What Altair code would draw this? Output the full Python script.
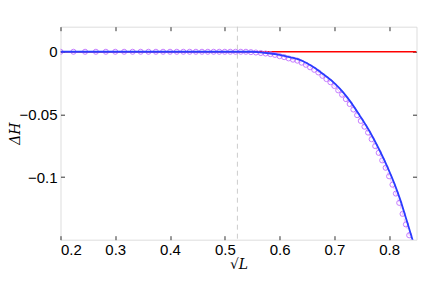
import altair as alt
import pandas as pd

x_ticks = [0.2, 0.3, 0.4, 0.5, 0.6, 0.7, 0.8]
y_ticks = [0, -0.05, -0.1]
threshold_x = [0.523]

blue_x = [0.2, 0.3, 0.4, 0.5, 0.55, 0.565, 0.58, 0.60, 0.62, 0.637, 0.65, 0.6645,
          0.68, 0.70, 0.715, 0.728, 0.7465, 0.765, 0.783, 0.798, 0.81, 0.8195,
          0.832, 0.8427, 0.848]
blue_y = [0, 0, 0, 0, 0, -0.0005, -0.0012, -0.0025, -0.0045, -0.0065, -0.0092, -0.013,
          -0.018, -0.025, -0.0318, -0.039, -0.051, -0.064, -0.079, -0.093, -0.1056, -0.117,
          -0.1345, -0.150, -0.158]

red_x = [0.2, 0.85]
red_y = [0, 0]

mag_x = [0.2, 0.2236, 0.2449, 0.2646, 0.2828, 0.3, 0.3162, 0.3317, 0.3464, 0.3606,
         0.3742, 0.3873, 0.4, 0.4123, 0.4243, 0.4359, 0.4472, 0.4583, 0.469, 0.4796,
         0.4899, 0.5, 0.5099, 0.5196, 0.5292, 0.5385, 0.5477, 0.5568, 0.5657, 0.5745,
         0.5831, 0.5916, 0.6, 0.6083, 0.6164, 0.6245, 0.6325, 0.6403, 0.6481, 0.6557,
         0.6633, 0.6708, 0.6782, 0.6856, 0.6928, 0.7, 0.7071, 0.7141, 0.7211, 0.728,
         0.7348, 0.7416, 0.7483, 0.755, 0.7616, 0.7681, 0.7746, 0.781, 0.7874, 0.7937,
         0.8, 0.8062, 0.8124, 0.8185, 0.8246, 0.8307, 0.8367, 0.8426, 0.8485]
mag_y = [0, 0, 0, 0, 0, 0, 0, 0, 0, 0,
         0, 0, 0, 0, 0, 0, 0, 0, 0, 0,
         0, 0, 0, 0, 0, 0, -0.0003, -0.0006, -0.0010, -0.0014,
         -0.0019, -0.0025, -0.0035, -0.0043, -0.0053, -0.0063, -0.0071, -0.0087, -0.0104, -0.0124,
         -0.0144, -0.0165, -0.0192, -0.0218, -0.0243, -0.0273, -0.0308, -0.0343, -0.0378, -0.0417,
         -0.0461, -0.0506, -0.0552, -0.0598, -0.0645, -0.0698, -0.0753, -0.0807, -0.0867, -0.0926,
         -0.0994, -0.1061, -0.1132, -0.1206, -0.1294, -0.1378, -0.1465, -0.155, -0.164]

blue_df = pd.DataFrame({"x": blue_x, "y": blue_y})
red_df = pd.DataFrame({"x": red_x, "y": red_y})
mag_df = pd.DataFrame({"x": mag_x, "y": mag_y})
thr_df = pd.DataFrame({"x": threshold_x})

xs = alt.Scale(domain=[0.2, 0.85], nice=False, zero=False)
ys = alt.Scale(domain=[-0.15, 0.02], nice=False, zero=False)

common = dict(domain=False, grid=False, tickSize=4, tickColor="#333333", tickWidth=1,
              offset=-4, labelFont="Liberation Sans", labelFontSize=15, labelColor="black")

x_bottom = alt.Axis(values=x_ticks, format=".1f", title="√L", titleFont="DejaVu Serif",
                    titleFontStyle="italic", titleFontWeight="normal", titleFontSize=14,
                    titleColor="black", labelPadding=3, titleY=22, **common)
y_left = alt.Axis(values=y_ticks, title="ΔH", titleFont="DejaVu Serif",
                  titleFontStyle="italic", titleFontWeight="normal", titleFontSize=14,
                  titleColor="black", labelPadding=3.5, titleX=-42, titleY=106.5,
                  labelExpr="datum.value == 0 ? '0' : replace(format(datum.value, '.2~f'), '-', '\u2212')",
                  **common)
x_top = alt.Axis(values=x_ticks, orient="top", labels=False, title="", **common)
y_right = alt.Axis(values=y_ticks, orient="right", labels=False, title="", **common)

red = alt.Chart(red_df).mark_line(color="#ff0000", strokeWidth=1.6, clip=True).encode(
    x=alt.X("x:Q", scale=xs, axis=x_bottom),
    y=alt.Y("y:Q", scale=ys, axis=y_left),
)

thr = alt.Chart(thr_df).mark_rule(color="#cccccc", strokeWidth=1, strokeDash=[5, 4]).encode(
    x=alt.X("x:Q", scale=xs, axis=x_top),
)

mag_line = alt.Chart(mag_df).mark_line(color="#e08cff", strokeWidth=1, strokeDash=[4, 3],
                                       opacity=0.6, clip=True, interpolate="monotone").encode(
    x=alt.X("x:Q", scale=xs, axis=None),
    y=alt.Y("y:Q", scale=ys, axis=None),
)

mag_pts = alt.Chart(mag_df).mark_point(shape="circle", filled=False, color="#c070ff",
                                       size=26, strokeWidth=1, opacity=0.9, clip=True).encode(
    x=alt.X("x:Q", scale=xs, axis=None),
    y=alt.Y("y:Q", scale=ys, axis=None),
)

blue = alt.Chart(blue_df).mark_line(color="#2a3cff", strokeWidth=1.8, clip=True,
                                    interpolate="monotone").encode(
    x=alt.X("x:Q", scale=xs, axis=None),
    y=alt.Y("y:Q", scale=ys, axis=y_right),
)

chart = alt.layer(red, thr, mag_line, mag_pts, blue).resolve_axis(
    x="independent", y="independent"
).properties(
    width=356, height=213,
    autosize=alt.AutoSizeParams(type="none"),
    padding={"left": 52.5, "top": 18.7, "right": 11, "bottom": 34},
).configure_view(stroke="#333333", strokeWidth=1).configure(background="white")

chart.save("out.html", embed_options={"renderer": "svg", "actions": False})
